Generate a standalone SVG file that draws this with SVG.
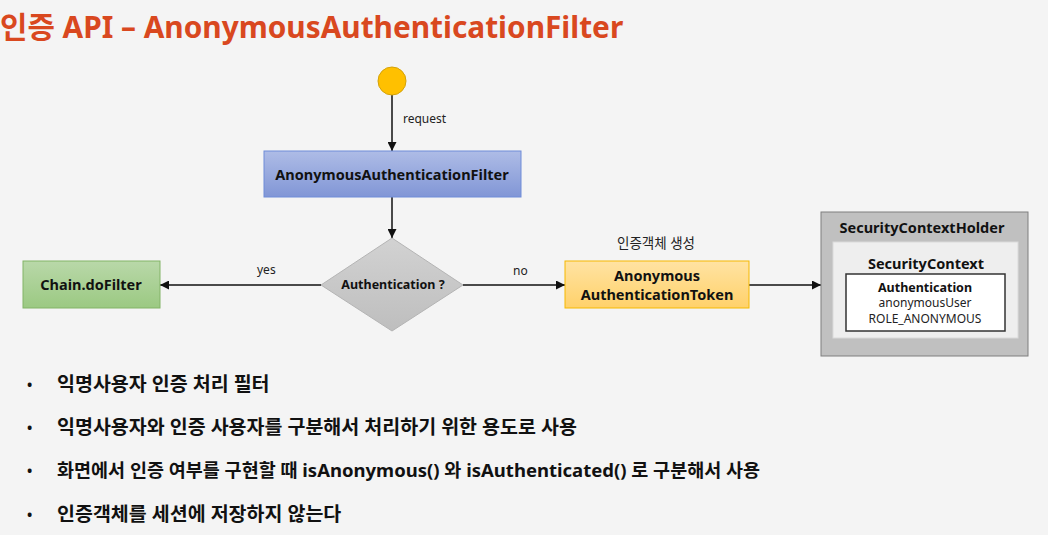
<svg xmlns="http://www.w3.org/2000/svg" width="1048" height="535" viewBox="0 0 1048 535">
  <defs>
    <style>
      text { font-family: "Noto Sans", "Noto Sans CJK KR", sans-serif; fill: #111; }
      .title { font-size: 29.8px; font-weight: bold; fill: #D9481F; }
      .lbl { font-size: 14.5px; font-weight: bold; text-anchor: middle; }
      .small { font-size: 12px; text-anchor: middle; fill: #222; }
      .edge { font-size: 12px; fill: #222; }
      .bul { font-size: 19.5px; font-weight: bold; }
      .mix { font-size: 18.5px; }
      .dot { font-size: 14px; font-weight: bold; }
      .conn { stroke: #111; stroke-width: 1.5; fill: none; marker-end: url(#arrow); }
    </style>
    <marker id="arrow" viewBox="0 0 10 10" refX="10" refY="5" markerWidth="6" markerHeight="6" markerUnits="strokeWidth" orient="auto">
      <path d="M0,0 L10,5 L0,10 z" fill="#111"/>
    </marker>
    <linearGradient id="gBlue" x1="0" y1="0" x2="0" y2="1">
      <stop offset="0" stop-color="#AEBCE6"/>
      <stop offset="1" stop-color="#8196D6"/>
    </linearGradient>
    <linearGradient id="gGreen" x1="0" y1="0" x2="0" y2="1">
      <stop offset="0" stop-color="#B9D8A9"/>
      <stop offset="1" stop-color="#9BC982"/>
    </linearGradient>
    <linearGradient id="gYellow" x1="0" y1="0" x2="0" y2="1">
      <stop offset="0" stop-color="#FFE3A3"/>
      <stop offset="1" stop-color="#FFD16A"/>
    </linearGradient>
    <linearGradient id="gGray" x1="0" y1="0" x2="0" y2="1">
      <stop offset="0" stop-color="#D2D2D2"/>
      <stop offset="1" stop-color="#BEBEBE"/>
    </linearGradient>
  </defs>

  <rect width="1048" height="535" fill="#F4F4F4"/>

  <text class="title" x="0" y="38">인증 API – AnonymousAuthenticationFilter</text>

  <g id="connectors">
    <line class="conn" x1="392" y1="95" x2="392" y2="151"/>
    <line class="conn" x1="392" y1="197" x2="392" y2="238"/>
    <line class="conn" x1="321" y1="285" x2="160" y2="285"/>
    <line class="conn" x1="463" y1="285" x2="565" y2="285"/>
    <line class="conn" x1="749" y1="285" x2="821" y2="285"/>
    <text class="edge" x="403" y="123">request</text>
    <text class="edge" x="257" y="274">yes</text>
    <text class="edge" x="513" y="275">no</text>
    <text class="small" x="656" y="248" style="font-size:13.5px">인증객체 생성</text>
  </g>

  <g id="start">
    <circle cx="392" cy="81" r="14" fill="#FFC000" stroke="#D4A20A" stroke-width="1"/>
  </g>

  <g id="filter">
    <rect x="264" y="151" width="257" height="46" fill="url(#gBlue)" stroke="#6F8CD8" stroke-width="1"/>
    <text class="lbl" x="392" y="180">AnonymousAuthenticationFilter</text>
  </g>

  <g id="decision">
    <polygon points="392,238 463,285 392,331 321,285" fill="url(#gGray)" stroke="#B4B4B4" stroke-width="1"/>
    <text class="lbl" x="393" y="289" style="font-size:12.5px">Authentication ?</text>
  </g>

  <g id="chain">
    <rect x="23" y="261" width="137" height="47" fill="url(#gGreen)" stroke="#82B366" stroke-width="1"/>
    <text class="lbl" x="91" y="290">Chain.doFilter</text>
  </g>

  <g id="token">
    <rect x="565" y="261" width="184" height="47" fill="url(#gYellow)" stroke="#F5B800" stroke-width="1"/>
    <text class="lbl" x="657" y="281">Anonymous</text>
    <text class="lbl" x="657" y="300">AuthenticationToken</text>
  </g>

  <g id="holder">
    <rect x="821" y="212" width="207" height="144" fill="#C0C0C0" stroke="#7F7F7F" stroke-width="1"/>
    <text class="lbl" x="922" y="233" style="font-size:14.5px">SecurityContextHolder</text>
    <rect x="833" y="242" width="185" height="96" fill="#EEEEEE" stroke="#DADADA" stroke-width="1"/>
    <text class="lbl" x="926" y="269" style="font-size:14.5px">SecurityContext</text>
    <rect x="846" y="274" width="159" height="57" fill="#FFFFFF" stroke="#333" stroke-width="1.5"/>
    <text class="lbl" x="925" y="292" style="font-size:12.5px">Authentication</text>
    <text class="small" x="925" y="307">anonymousUser</text>
    <text class="small" x="925" y="323">ROLE_ANONYMOUS</text>
  </g>

  <g id="notes">
    <text class="dot" x="27" y="390">•</text>
    <text class="bul" x="57" y="391">익명사용자 인증 처리 필터</text>
    <text class="dot" x="27" y="433">•</text>
    <text class="bul" x="57" y="434">익명사용자와 인증 사용자를 구분해서 처리하기 위한 용도로 사용</text>
    <text class="dot" x="27" y="476">•</text>
    <text class="bul mix" x="57" y="477">화면에서 인증 여부를 구현할 때 isAnonymous() 와 isAuthenticated() 로 구분해서 사용</text>
    <text class="dot" x="27" y="520">•</text>
    <text class="bul" x="57" y="521">인증객체를 세션에 저장하지 않는다</text>
  </g>
</svg>
